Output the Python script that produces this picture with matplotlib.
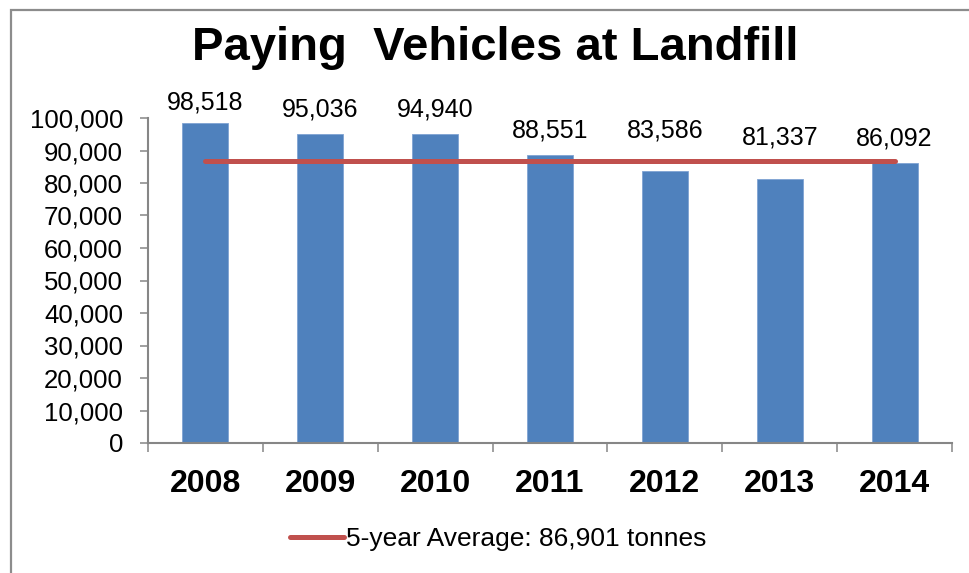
import numpy as np
from matplotlib import pyplot as plt
from matplotlib.patches import Rectangle

# Data
years = ['2008', '2009', '2010', '2011', '2012', '2013', '2014']
vehicles = [98518, 95036, 94940, 88551, 83586, 81337, 86092]
average = 86901
average_label = '5-year Average: 86,901 tonnes'
y_ticks = [0, 10000, 20000, 30000, 40000, 50000, 60000, 70000, 80000, 90000, 100000]

# Label offsets above bar tops (points), some were moved up above the line
label_offsets = [9.5, 13, 13, 13, 24.5, 24.5, 13]

plt.rcParams['font.family'] = ['Liberation Sans', 'DejaVu Sans']

fig = plt.figure(figsize=(9.69, 5.73), dpi=100)
ax = fig.add_axes([148/969, 1 - 443/573, (952 - 148)/969, (443 - 118)/573])

bar_blue = '#4F81BD'
line_red = '#C0504D'
grey = '#868686'

x = np.arange(len(years))
ax.bar(x, vehicles, width=0.4, color=bar_blue, edgecolor='#7FA3D3', linewidth=0.6, zorder=2)
line, = ax.plot(x, [average]*len(years), color=line_red, linewidth=3.6,
                solid_capstyle='round', zorder=3, label=average_label)

# Data labels
for i, v in enumerate(vehicles):
    ax.annotate(f'{v:,}', (x[i], v), xytext=(0, label_offsets[i]),
                textcoords='offset points', ha='center', va='baseline',
                fontsize=18, color='black', zorder=4)

ax.set_xlim(-0.5, len(years) - 0.5)
ax.set_ylim(0, 100000)

# Category boundaries get the tick marks, centres get the labels
ax.set_xticks(np.arange(-0.5, len(years)), labels=[''] * (len(years) + 1))
ax.set_xticks(x, labels=years, minor=True)
ax.tick_params(axis='x', which='major', direction='out', length=6.5, width=1.1, color=grey)
ax.tick_params(axis='x', which='minor', length=0, pad=19, labelsize=23)
for t in ax.get_xticklabels(minor=True):
    t.set_fontweight('bold')

ax.set_yticks(y_ticks, labels=[f'{t:,}' for t in y_ticks])
ax.tick_params(axis='y', direction='out', length=6, width=1.1, color=grey, pad=12, labelsize=18.5)

for side in ['top', 'right']:
    ax.spines[side].set_visible(False)
for side in ['left', 'bottom']:
    ax.spines[side].set_color(grey)
    ax.spines[side].set_linewidth(1.5)

fig.text(495/969, 1 - 60/573, 'Paying  Vehicles at Landfill', ha='center', va='baseline',
         fontsize=34, fontweight='bold')

fig.legend(handles=[line], loc='center', bbox_to_anchor=(498/969, 1 - 539/573),
           frameon=False, fontsize=19, handlelength=2.05, handletextpad=0.05)

# outer chart frame (right and bottom edges fall outside the picture)
fig.patches.append(Rectangle((11/969, -0.05), 1.1, 1 - 10/573 + 0.05, transform=fig.transFigure,
                             fill=False, edgecolor='#8C8C8C', linewidth=1.6))

fig.savefig('out.png', dpi=100)
